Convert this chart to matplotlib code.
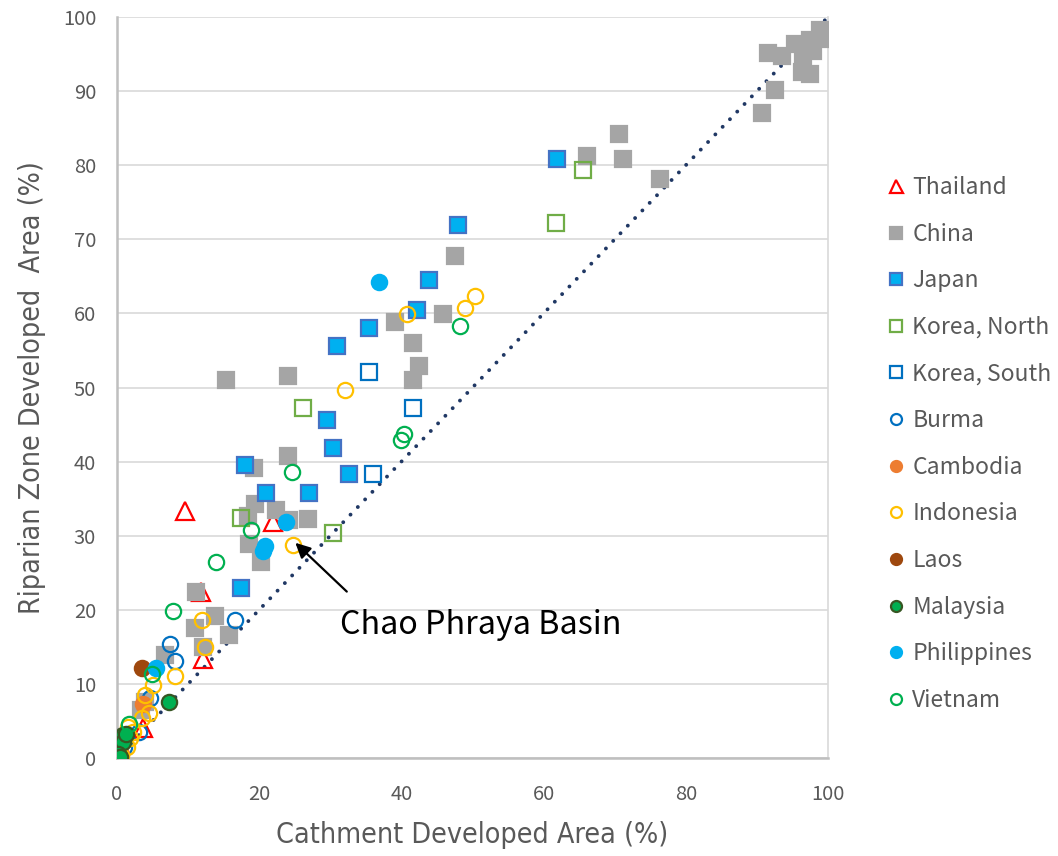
import matplotlib
matplotlib.use("Agg")
import matplotlib.pyplot as plt
from matplotlib import font_manager

# Catchment vs riparian-zone developed area (%) by basin, grouped by country
thailand_x = [9.6, 21.9, 11.8, 12.1, 3.6]
thailand_y = [33.3, 31.9, 22.4, 13.4, 4.0]

china_x = [91.5, 93.5, 95.4, 97.5, 98.9, 99.1, 97.9, 96.5, 96.3, 97.4, 92.5, 90.7,
           70.6, 66.1, 71.2, 76.4, 47.6, 39.1, 45.9, 41.7, 42.5, 41.7, 15.3, 24.0,
           24.0, 19.2, 19.4, 22.4, 26.8, 24.2, 18.4, 18.6, 20.3, 11.1, 13.8, 10.9,
           15.8, 12.1, 6.7, 3.9, 3.4, 0.4, 0.0]
china_y = [95.2, 94.7, 96.3, 96.9, 98.2, 97.1, 95.4, 94.0, 92.6, 92.3, 90.1, 87.1,
           84.2, 81.2, 80.9, 78.2, 67.7, 58.8, 59.9, 56.0, 52.9, 51.0, 51.0, 51.6,
           40.8, 39.1, 34.3, 33.5, 32.3, 32.1, 32.6, 28.9, 26.4, 22.4, 19.2, 17.5,
           16.6, 15.0, 13.9, 7.6, 6.5, 2.9, 1.2]

japan_x = [61.9, 47.9, 43.9, 42.2, 35.5, 31.0, 29.6, 30.4, 18.0, 32.6, 21.0, 27.0, 17.5]
japan_y = [80.9, 72.0, 64.5, 60.5, 58.0, 55.6, 45.6, 41.8, 39.5, 38.3, 35.7, 35.7, 23.0]

korea_n_x = [65.6, 61.7, 26.2, 17.5, 30.4]
korea_n_y = [79.3, 72.2, 47.2, 32.4, 30.4]

korea_s_x = [35.5, 41.7, 36.0]
korea_s_y = [52.1, 47.2, 38.3]

burma_x = [16.6, 7.4, 8.2, 4.6, 3.1, 1.0]
burma_y = [18.6, 15.4, 13.1, 8.1, 3.5, 1.5]

cambodia_x = [3.6, 0.5]
cambodia_y = [7.3, 0.5]

indonesia_x = [40.8, 48.9, 50.4, 32.1, 24.7, 11.9, 12.4, 8.2, 5.1, 4.0, 4.5, 3.5,
               1.6, 2.3, 1.8, 1.4, 0.5]
indonesia_y = [59.9, 60.7, 62.3, 49.7, 28.8, 18.6, 15.0, 11.1, 9.9, 8.5, 6.1, 5.4,
               4.2, 3.5, 2.7, 1.5, 0.3]

laos_x = [3.5]
laos_y = [12.2]

malaysia_x = [7.3, 0.9, 0.9, 0.2, 0.4, 1.2]
malaysia_y = [7.5, 3.1, 2.1, 0.6, 0.2, 3.3]

philippines_x = [36.9, 23.7, 20.5, 20.8, 5.5]
philippines_y = [64.2, 31.8, 28.0, 28.6, 12.2]

vietnam_x = [48.2, 40.3, 39.9, 24.6, 18.8, 13.9, 7.9, 4.9, 1.7]
vietnam_y = [58.3, 43.7, 42.9, 38.6, 30.8, 26.4, 19.8, 11.3, 4.6]

series = [
    ("Thailand", thailand_x, thailand_y, "^", "none", "#FF0000", 13),
    ("China", china_x, china_y, "s", "#A5A5A5", "#A5A5A5", 12),
    ("Japan", japan_x, japan_y, "s", "#00B0F0", "#4472C4", 12),
    ("Korea, North", korea_n_x, korea_n_y, "s", "none", "#70AD47", 12),
    ("Korea, South", korea_s_x, korea_s_y, "s", "none", "#0070C0", 12),
    ("Burma", burma_x, burma_y, "o", "none", "#0070C0", 11),
    ("Cambodia", cambodia_x, cambodia_y, "o", "#ED7D31", "#ED7D31", 11),
    ("Indonesia", indonesia_x, indonesia_y, "o", "none", "#FFC000", 11),
    ("Laos", laos_x, laos_y, "o", "#9E480E", "#9E480E", 11),
    ("Malaysia", malaysia_x, malaysia_y, "o", "#00B050", "#375623", 11),
    ("Philippines", philippines_x, philippines_y, "o", "#00B0F0", "#00B0F0", 11),
    ("Vietnam", vietnam_x, vietnam_y, "o", "none", "#00B050", 11),
]

tick_vals = [0, 20, 40, 60, 80, 100]
ytick_vals = [0, 10, 20, 30, 40, 50, 60, 70, 80, 90, 100]

GRAY = "#595959"
tick_font = ["Noto Sans CJK JP", "DejaVu Sans"]
title_font = ["DejaVu Sans"]

fig = plt.figure(figsize=(10.58, 8.56), dpi=100)
ax = fig.add_axes([0.1106, 0.1145, 0.6720, 0.8656])

ax.plot([0, 100], [0, 100], color="#203864", lw=2.8,
        linestyle=(0, (0.01, 2.7)), dash_capstyle="round", zorder=2)

for name, xs, ys, mk, fc, ec, ms in series:
    ax.plot(xs, ys, linestyle="none", marker=mk, markersize=ms,
            markerfacecolor=fc, markeredgecolor=ec, markeredgewidth=1.6,
            label=name, zorder=3)

ax.set_xlim(0, 100)
ax.set_ylim(0, 100)
ax.set_xticks(tick_vals)
ax.set_yticks(ytick_vals)
ax.tick_params(length=0, labelcolor=GRAY, labelsize=14.5)
for lab in ax.get_xticklabels() + ax.get_yticklabels():
    lab.set_fontfamily(tick_font)
ax.tick_params(axis="x", pad=19)
ax.tick_params(axis="y", pad=15)

ax.grid(axis="y", color="#D9D9D9", lw=1.2, zorder=0)
ax.set_axisbelow(True)
for side in ["left", "bottom"]:
    ax.spines[side].set_color("#BFBFBF")
    ax.spines[side].set_linewidth(1.8)
ax.spines["right"].set_color("#D9D9D9")
ax.spines["right"].set_linewidth(1.2)
ax.spines["top"].set_visible(False)

title_props = font_manager.FontProperties(family=title_font, stretch="condensed",
                                          size=20.5)
ax.set_xlabel("Cathment Developed Area (%)", color=GRAY,
              fontproperties=title_props, labelpad=11)
ax.set_ylabel("Riparian Zone Developed  Area (%)", color=GRAY,
              fontproperties=title_props, labelpad=12)

ax.annotate("", xy=(24.8, 29.3), xytext=(32.6, 22.2),
            arrowprops=dict(arrowstyle="-|>,head_length=0.9,head_width=0.45",
                            color="black", lw=1.6), zorder=5)
ax.text(31.4, 18.0, "Chao Phraya Basin", color="black", fontsize=23.2,
        family=tick_font, va="center", ha="left")

leg = fig.legend(loc="upper left", bbox_to_anchor=(0.832, 0.805), frameon=False,
                 markerscale=0.72, handlelength=0.55, handletextpad=0.45,
                 labelspacing=1.03, borderaxespad=0,
                 prop=font_manager.FontProperties(family=tick_font, size=16.5))
for t in leg.get_texts():
    t.set_color(GRAY)

fig.savefig("out.png", dpi=100)
